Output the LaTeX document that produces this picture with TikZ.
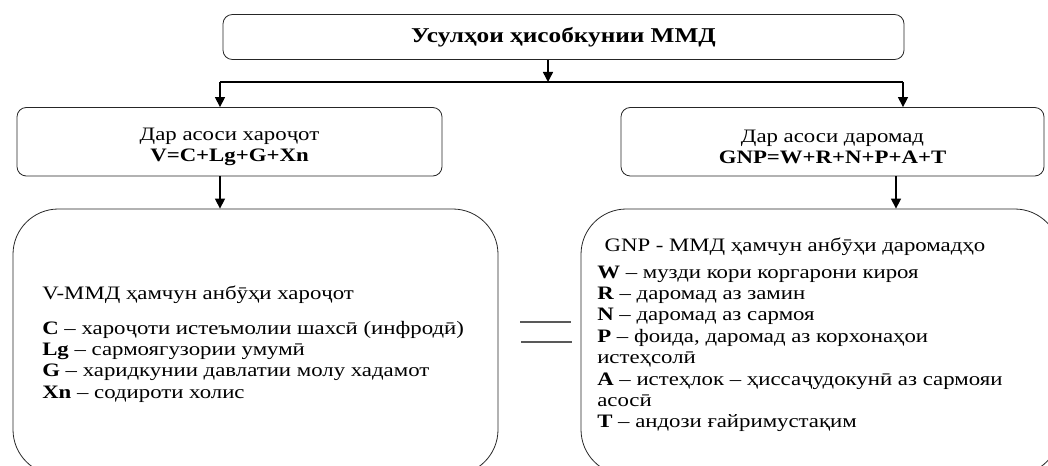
\documentclass[tikz,border=0pt]{standalone}
\usepackage{fontspec}
\setmainfont{Liberation Serif}[FakeStretch=1.2]
\usetikzlibrary{arrows.meta}

\tikzset{
  stepbox/.style={draw=black!85, line width=0.6pt, rounded corners=7pt, align=center, inner sep=0pt,
    font=\fontsize{14.25}{15.5}\selectfont},
  bigbox/.style={draw=black!85, line width=0.6pt, rounded corners=34pt, inner sep=0pt},
  listtext/.style={align=left, inner sep=0pt, font=\fontsize{14.25}{16.05}\selectfont},
  arr/.style={-{Triangle[length=7.5pt,width=7.5pt]}, line width=1.1pt},
}

\begin{document}
\begin{tikzpicture}[x=0.75pt, y=-0.75pt]
			%%%%% FRAME %%%%%
			\useasboundingbox (0, 0) rectangle (1048, 466);
			\clip (0, 0) rectangle (1048, 466);
			
			%%%%% BOXES %%%%%
			\node[stepbox, minimum width=510.75pt, minimum height=33.75pt, font=\fontsize{15.8}{17}\selectfont] (title) at (563.5, 37) {\textbf{Усулҳои ҳисобкунии ММД}};
			
			\node[stepbox, minimum width=318.75pt, minimum height=51.4pt] (costs) at (229.5, 141.75) {\rule{0pt}{17pt}Дар асоси хароҷот\\ \textbf{V=C+Lg+G+Xn}};
			\node[stepbox, minimum width=317.25pt, minimum height=51.4pt] (income) at (832.5, 141.75) {\rule{0pt}{17pt}Дар асоси даромад\\ \textbf{GNP=W+R+N+P+A+T}};
			
			\node[bigbox, minimum width=363.75pt, minimum height=199.5pt] (costsbig) at (255.5, 342) {};
			\node[bigbox, minimum width=359.25pt, minimum height=199.5pt] (incomebig) at (820.5, 342) {};
			
			%%%%% ARROWS %%%%%
			\coordinate (split) at (548, 82);
			\coordinate (splitL) at (220, 82);
			\coordinate (splitR) at (903, 82);
			\coordinate (tapR) at (896, 0);
			
			\draw[arr] (title.south -| split) -- (split);
			\draw[line width=1.1pt] (splitL) -- (splitR);
			\draw[arr] (splitL) -- (splitL |- costs.north);
			\draw[arr] (splitR) -- (splitR |- income.north);
			\draw[arr] (costs.south -| splitL) -- (costsbig.north -| splitL);
			\draw[arr] (income.south -| tapR) -- (incomebig.north -| tapR);
			
			%%%%% EQUALS %%%%%
			\draw[line width=1pt, color=black!65] (520, 322) -- (571, 322);
			\draw[line width=1pt, color=black!65] (521, 342) -- (572, 342);
			
			%%%%% TEXTS %%%%%
			\node[listtext, anchor=north west] (costslist) at (42, 285.5) {V-ММД ҳамчун анбӯҳи хароҷот\\[10pt]
				\textbf{C} -- хароҷоти истеъмолии шахсӣ (инфродӣ)\\
				\textbf{Lg} -- сармоягузории умумӣ\\
				\textbf{G} -- харидкунии давлатии молу хадамот\\
				\textbf{Xn} -- содироти холис};
			
			\node[listtext, anchor=north west] (incomelist) at (597, 237.5) {\hspace*{5.5pt}GNP - ММД ҳамчун анбӯҳи даромадҳо\\[4pt]
				\textbf{W} -- музди кори коргарони кироя\\
				\textbf{R} -- даромад аз замин\\
				\textbf{N} -- даромад аз сармоя\\
				\textbf{P} -- фоида, даромад аз корхонаҳои\\
				истеҳсолӣ\\
				\textbf{A} -- истеҳлок -- ҳиссаҷудокунӣ аз сармояи\\
				асосӣ\\
				\textbf{T} -- андози ғайримустақим};
			
\end{tikzpicture}
\end{document}
